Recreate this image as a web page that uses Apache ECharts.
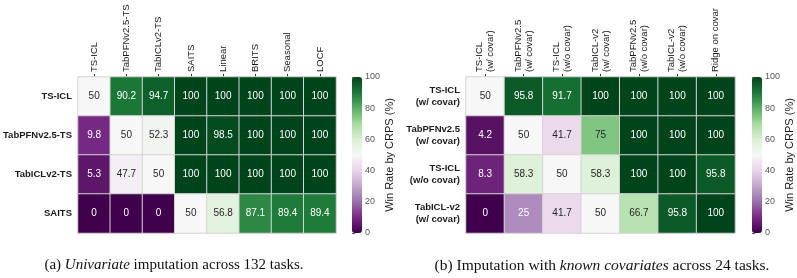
<!DOCTYPE html>
<html>
<head>
<meta charset="utf-8">
<script src="https://cdn.jsdelivr.net/npm/echarts@6/dist/echarts.min.js"></script>
<style>
  html, body { margin: 0; padding: 0; background: #fff; }
  #chart { width: 797px; height: 278px; }
</style>
</head>
<body>
<div id="chart"></div>
<script>
// (a) univariate
const colsA = ['TS-ICL', 'TabPFNv2.5-TS', 'TabICLv2-TS', 'SAITS', 'Linear', 'BRITS', 'Seasonal', 'LOCF'];
const rowsA = ['TS-ICL', 'TabPFNv2.5-TS', 'TabICLv2-TS', 'SAITS'];
const valsA = [
  [50, 90.2, 94.7, 100, 100, 100, 100, 100],
  [9.8, 50, 52.3, 100, 98.5, 100, 100, 100],
  [5.3, 47.7, 50, 100, 100, 100, 100, 100],
  [0, 0, 0, 50, 56.8, 87.1, 89.4, 89.4]
];
// (b) with known covariates
const colsB = ['TS-ICL\n(w/ covar)', 'TabPFNv2.5\n(w/ covar)', 'TS-ICL\n(w/o covar)', 'TabICL-v2\n(w/ covar)',
  'TabPFNv2.5\n(w/o covar)', 'TabICL-v2\n(w/o covar)', 'Ridge on covar'];
const rowsB = ['TS-ICL\n(w/ covar)', 'TabPFNv2.5\n(w/ covar)', 'TS-ICL\n(w/o covar)', 'TabICL-v2\n(w/ covar)'];
const valsB = [
  [50, 95.8, 91.7, 100, 100, 100, 100],
  [4.2, 50, 41.7, 75, 100, 100, 100],
  [8.3, 58.3, 50, 58.3, 100, 100, 95.8],
  [0, 25, 41.7, 50, 66.7, 95.8, 100]
];
const cbarTicks = [0, 20, 40, 60, 80, 100];
const captionA = '(a) {i|Univariate} imputation across 132 tasks.';
const captionB = '(b) Imputation with {i|known covariates} across 24 tasks.';

// matplotlib PRGn
const PRGn = ['#40004b', '#762a83', '#9970ab', '#c2a5cf', '#e7d4e8', '#f7f7f7',
  '#d9f0d3', '#a6dba0', '#5aae61', '#1b7837', '#00441b'];

const FONT = 'Liberation Sans';

function cells(vals) {
  const out = [];
  vals.forEach((row, r) => row.forEach((v, c) => {
    const dark = v <= 30 || v >= 80;
    out.push({ value: [c, r, v], label: { color: dark ? '#fff' : '#262626' } });
  }));
  return out;
}

const chart = echarts.init(document.getElementById('chart'));

const heatX = (data, idx) => ({
  type: 'category', gridIndex: idx, data: data, position: 'top',
  axisLine: { show: false },
  axisTick: { show: true, alignWithLabel: true, length: 3, lineStyle: { color: '#333' } },
  axisLabel: { rotate: -90, fontSize: 9.5, fontFamily: FONT, color: '#1a1a1a', margin: 5, lineHeight: 11, interval: 0 },
  splitLine: { show: false }
});
const heatY = (data, idx) => ({
  type: 'category', gridIndex: idx, data: data, inverse: true,
  axisLine: { show: false }, axisTick: { show: false },
  axisLabel: { fontSize: 9.5, fontWeight: 'bold', fontFamily: FONT, color: '#1a1a1a', margin: 6, lineHeight: 12, interval: 0 }
});
const cbarY = (idx) => ({
  type: 'value', gridIndex: idx, min: 0, max: 100, interval: 20, position: 'right',
  axisLine: { show: false },
  axisTick: { show: true, length: 3, lineStyle: { color: '#555' } },
  axisLabel: { fontSize: 9, fontFamily: FONT, color: '#555', margin: 3 },
  splitLine: { show: false },
  name: 'Win Rate by CRPS (%)', nameLocation: 'middle', nameRotate: 90, nameGap: 22,
  nameTextStyle: { fontSize: 11, fontFamily: FONT, color: '#1a1a1a' }
});
const hideX = (idx) => ({ type: 'value', gridIndex: idx, show: false });

const seriesBase = {
  type: 'heatmap',
  itemStyle: { borderColor: '#d4d4d4', borderWidth: 1 },
  label: { show: true, fontSize: 10, fontFamily: FONT },
  emphasis: { disabled: true }
};

const capStyle = (size) => ({
  fontFamily: 'Liberation Serif', fontSize: size, fontWeight: 'normal', color: '#111',
  rich: { i: { fontFamily: 'Liberation Serif', fontSize: size, fontStyle: 'italic', color: '#111' } }
});

const option = {
  backgroundColor: '#fff',
  animation: false,
  title: [
    { text: captionA, left: 169, top: 253, textAlign: 'center', textStyle: capStyle(15) },
    { text: captionB, left: 597, top: 253, textAlign: 'center', textStyle: capStyle(15.5) }
  ],
  grid: [
    { left: 78, top: 77, width: 258, height: 156 },
    { left: 466, top: 77, width: 269, height: 156 },
    { left: 352, top: 77, width: 10, height: 156 },
    { left: 752, top: 77, width: 10, height: 156 }
  ],
  xAxis: [heatX(colsA, 0), heatX(colsB, 1), hideX(2), hideX(3)],
  yAxis: [heatY(rowsA, 0), heatY(rowsB, 1), cbarY(2), cbarY(3)],
  visualMap: [
    { type: 'continuous', min: 0, max: 100, seriesIndex: 0, calculable: false, orient: 'vertical',
      left: 352, top: 77, itemWidth: 10, itemHeight: 156, padding: 0, text: null, showLabel: false,
      inRange: { color: PRGn } },
    { type: 'continuous', min: 0, max: 100, seriesIndex: 1, calculable: false, orient: 'vertical',
      left: 752, top: 77, itemWidth: 10, itemHeight: 156, padding: 0, text: null, showLabel: false,
      inRange: { color: PRGn } }
  ],
  series: [
    Object.assign({}, seriesBase, { xAxisIndex: 0, yAxisIndex: 0, data: cells(valsA) }),
    Object.assign({}, seriesBase, { xAxisIndex: 1, yAxisIndex: 1, data: cells(valsB) })
  ]
};
chart.setOption(option);
</script>
</body>
</html>
